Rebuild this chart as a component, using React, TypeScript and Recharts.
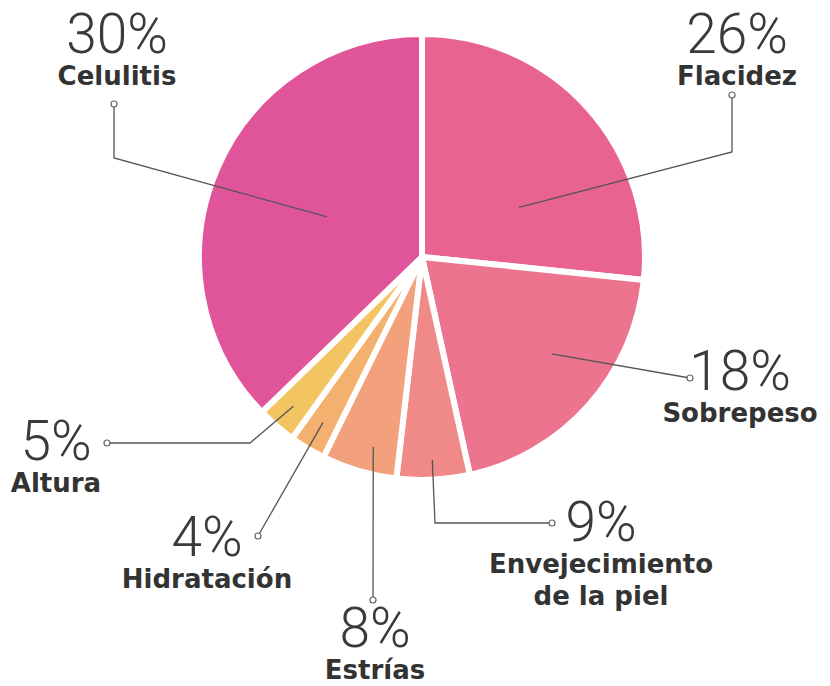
import { PieChart, Pie, Cell } from 'recharts';

// slices clockwise from 12 o'clock
const categories = ['Flacidez', 'Sobrepeso', 'Envejecimiento|de la piel', 'Estrías', 'Hidratación', 'Altura', 'Celulitis'];
// printed percentages
const labelPct = [26, 18, 9, 8, 4, 5, 30];
// drawn slice sizes (degrees; the artwork is not to scale)
const sliceDeg = [95.9, 71.7, 19.0, 19.6, 9.4, 10.3, 134.1];
const colors = ['#e8648f', '#ec748f', '#f08a88', '#f3a07c', '#f3b06e', '#f2c462', '#e0559a'];

const data = categories.map((name, i) => ({ name, pct: labelPct[i], value: sliceDeg[i] }));

const CX = 422;
const CY = 257;
const RAD = Math.PI / 180;

// label layout: start radius/angle shift on the slice, leader path, dot, text anchor
const layout = [
  { r: 109, dA: -15, path: [[732, 152]], dot: [732, 95], tx: 737, ty: 53 },
  { r: 162, dA: 5, path: [], dot: [690, 378], tx: 740, ty: 390 },
  { r: 203, dA: 0, path: [[435, 523]], dot: [552, 523], tx: 601, ty: 541 },
  { r: 196, dA: 2, path: [], dot: [373, 600], tx: 375, ty: 647 },
  { r: 193, dA: 0, path: [], dot: [258, 536], tx: 207, ty: 556 },
  { r: 197, dA: 0, path: [[250, 443]], dot: [107, 443], tx: 56, ty: 460 },
  { r: 103, dA: 0, path: [[114, 158]], dot: [114, 104], tx: 117, ty: 53 },
];

const renderLabel = (props: any) => {
  const { midAngle, index } = props;
  const l = layout[index];
  const a = (midAngle + l.dA) * RAD;
  const sx = CX + l.r * Math.cos(a);
  const sy = CY - l.r * Math.sin(a);
  const pts = [[sx, sy], ...l.path, l.dot];
  const lines = categories[index].split('|');
  return (
    <g key={`lbl-${index}`}>
      <polyline
        points={pts.map((p) => p.join(',')).join(' ')}
        fill="none"
        stroke="#555"
        strokeWidth={1.3}
      />
      <circle cx={l.dot[0]} cy={l.dot[1]} r={3} fill="#fff" stroke="#666" strokeWidth={1.2} />
      <text
        x={l.tx}
        y={l.ty}
        textAnchor="middle"
        fill="#3a3a3a"
        fontFamily="Roboto, 'DejaVu Sans', sans-serif"
        fontWeight={300}
        fontSize={55}
      >
        {labelPct[index]}%
      </text>
      {lines.map((t, j) => (
        <text
          key={j}
          x={l.tx}
          y={l.ty + 32 + j * 32}
          textAnchor="middle"
          fill="#333"
          fontFamily="'DejaVu Sans', sans-serif"
          fontWeight={700}
          fontSize={26}
        >
          {t}
        </text>
      ))}
    </g>
  );
};

export default function App() {
  return (
    <div style={{ position: 'absolute', left: 0, top: 0, width: 830, height: 686, background: '#fff' }}>
      <PieChart width={830} height={686} margin={{ top: 0, right: 0, bottom: 0, left: 0 }}>
        <Pie
          data={data}
          dataKey="value"
          nameKey="name"
          cx={CX}
          cy={CY}
          innerRadius={0}
          outerRadius={223}
          startAngle={90}
          endAngle={-270}
          stroke="#fff"
          strokeWidth={6}
          label={renderLabel}
          labelLine={false}
          isAnimationActive={false}
        >
          {data.map((d, i) => (
            <Cell key={d.name} fill={colors[i]} />
          ))}
        </Pie>
      </PieChart>
    </div>
  );
}
